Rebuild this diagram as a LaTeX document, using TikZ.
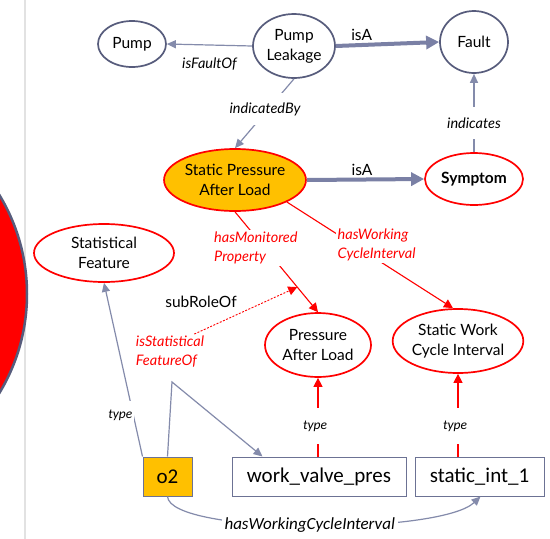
\documentclass[tikz,border=0pt]{standalone}
\usepackage{fontspec}
\setmainfont{Lato}
\newfontfamily\boxfont{Carlito}
\usetikzlibrary{arrows.meta,shapes.geometric}
\definecolor{slate}{HTML}{575C7C}
\definecolor{edgecol}{HTML}{848BAB}
\definecolor{isacol}{HTML}{7A80A5}
\definecolor{boxline}{HTML}{6C7294}
\definecolor{amber}{HTML}{FFC000}
\definecolor{redring}{HTML}{FF0000}
\definecolor{shadowline}{HTML}{E2E2E2}
\newcommand\nodefont{\fontsize{15.5}{20}\selectfont}
\begin{document}
\begin{tikzpicture}[x=1pt,y=-1pt,
  cls/.style={ellipse, draw=slate, line width=1.7pt, inner sep=0pt, align=center, font=\nodefont},
  redcls/.style={cls, draw=redring},
  ind/.style={rectangle, draw=boxline, line width=1pt, inner sep=0pt, font=\boxfont\fontsize{21}{24}\selectfont},
  rel/.style={draw=edgecol, line width=1.2pt, -{Triangle[length=9pt,width=8pt]}},
  isarel/.style={draw=isacol, line width=4pt, -{Triangle[length=13pt,width=13pt]}},
  redrel/.style={draw=redring, line width=1.1pt, -{Triangle[length=9pt,width=9pt]}},
  lbl/.style={font=\itshape\fontsize{14.5}{19}\selectfont, inner sep=2pt},
  redlbl/.style={lbl, text=redring},
  upright/.style={font=\nodefont, inner sep=2pt},
  typelbl/.style={font=\boxfont\itshape\fontsize{13.5}{16}\selectfont, inner sep=2pt},
  boxlbl/.style={font=\boxfont\itshape\fontsize{17}{20}\selectfont, inner sep=3pt},
  gap/.style={fill=white, minimum height=#1}]
\useasboundingbox (0,0) rectangle (550,539);
\fill[white] (0,0) rectangle (550,539);

% slide edge and the red disc peeking in from the left
\draw[shadowline, line width=2pt] (25,0) -- (25,539);
\begin{scope}
  \clip (0,0) rectangle (550,539);
  \draw[fill=redring, draw=slate, line width=2.5pt] (-164,294) circle[radius=191pt];
\end{scope}

% classes
\node[cls, minimum width=68pt, minimum height=46pt] (pump) at (132,44) {Pump};
\node[cls, minimum width=82pt, minimum height=64pt] (leak) at (294,46) {Pump\\Leakage};
\node[cls, minimum width=68pt, minimum height=62pt] (fault) at (474,42) {Fault};
\node[redcls, fill=amber, minimum width=140pt, minimum height=62pt] (spal) at (235,180) {Static Pressure\\After Load};
\node[redcls, minimum width=98pt, minimum height=52pt, font=\nodefont\bfseries] (symp) at (474,179) {Symptom};
\node[redcls, minimum width=140pt, minimum height=58pt] (statf) at (104,253) {Statistical\\Feature};
\node[redcls, minimum width=106pt, minimum height=64pt] (pal) at (318,345) {Pressure\\After Load};
\node[redcls, minimum width=130pt, minimum height=64pt] (swci) at (458,341) {Static Work\\Cycle Interval};

% individuals
\node[ind, fill=amber, minimum width=49pt, minimum height=39pt] (o2) at (167.5,476.5) {o2};
\node[ind, minimum width=174pt, minimum height=39pt] (wvp) at (319,476.5) {work\_valve\_pres};
\node[ind, minimum width=129pt, minimum height=39pt] (si1) at (479.5,476.5) {static\_int\_1};

% fault relations
\draw[rel] (leak.west) -- node[lbl, below=10pt] (lfo) {isFaultOf} (pump.east);
\draw[isarel] (leak.east) -- node[upright, above, pos=0.25] (lisa1) {isA} (fault.west);
\draw[rel] (leak.south) -- node[lbl, gap=32pt, pos=0.44, xshift=-3pt] (lib) {indicatedBy} (spal.north);
\draw[rel] (symp.north) -- node[lbl, gap=32pt, pos=0.37] (lind) {indicates} (fault.south);
\draw[isarel] (spal.east) -- node[upright, above, pos=0.47] (lisa2) {isA} (symp.west);

% monitored property and working cycle
\draw[redrel] (spal.south) -- node[redlbl, fill=white, pos=0.36, xshift=-9pt, align=left] (lhmp) {hasMonitored\\Property} (pal.north);
\path (spal.south) -- coordinate[pos=0.75] (hmp) (pal.north);
\draw[redrel] (spal.-23) -- node[redlbl, fill=white, pos=0.54, yshift=14pt, align=left] (lhwc) {hasWorking\\CycleInterval} ([xshift=-5pt]swci.north);

% statistical feature role
\node[redlbl, align=left] (isfl) at (170,352) {isStatistical\\FeatureOf};
\draw[redrel, line width=0.9pt, dash pattern=on 2pt off 1.5pt] ([xshift=-12pt]isfl.north east) -- (hmp);
\node[upright] (lsub) at (201,302) {subRoleOf};
\coordinate (fbend) at (172,382);
\draw[rel] (o2.north) -- (fbend) -- ([xshift=31pt]wvp.north west);

% types
\draw[rel] (o2.north west) -- node[typelbl, gap=30pt, pos=0.236, xshift=-13pt] (lt1) {type} (statf.south);
\draw[redrel] (pal.south |- wvp.north) -- node[typelbl, gap=36pt, pos=0.39, xshift=-3pt] (lt2) {type} (pal.south);
\draw[redrel] (swci.south |- si1.north) -- node[typelbl, gap=36pt, pos=0.37, xshift=-3pt] (lt3) {type} (swci.south);

% working cycle of o2
\draw[rel] (o2.south) .. controls (170,535) and (440,535) .. node[boxlbl, fill=white, pos=0.5] (lhw) {hasWorkingCycleInterval} ([xshift=1pt]si1.south);
\end{tikzpicture}
\end{document}
